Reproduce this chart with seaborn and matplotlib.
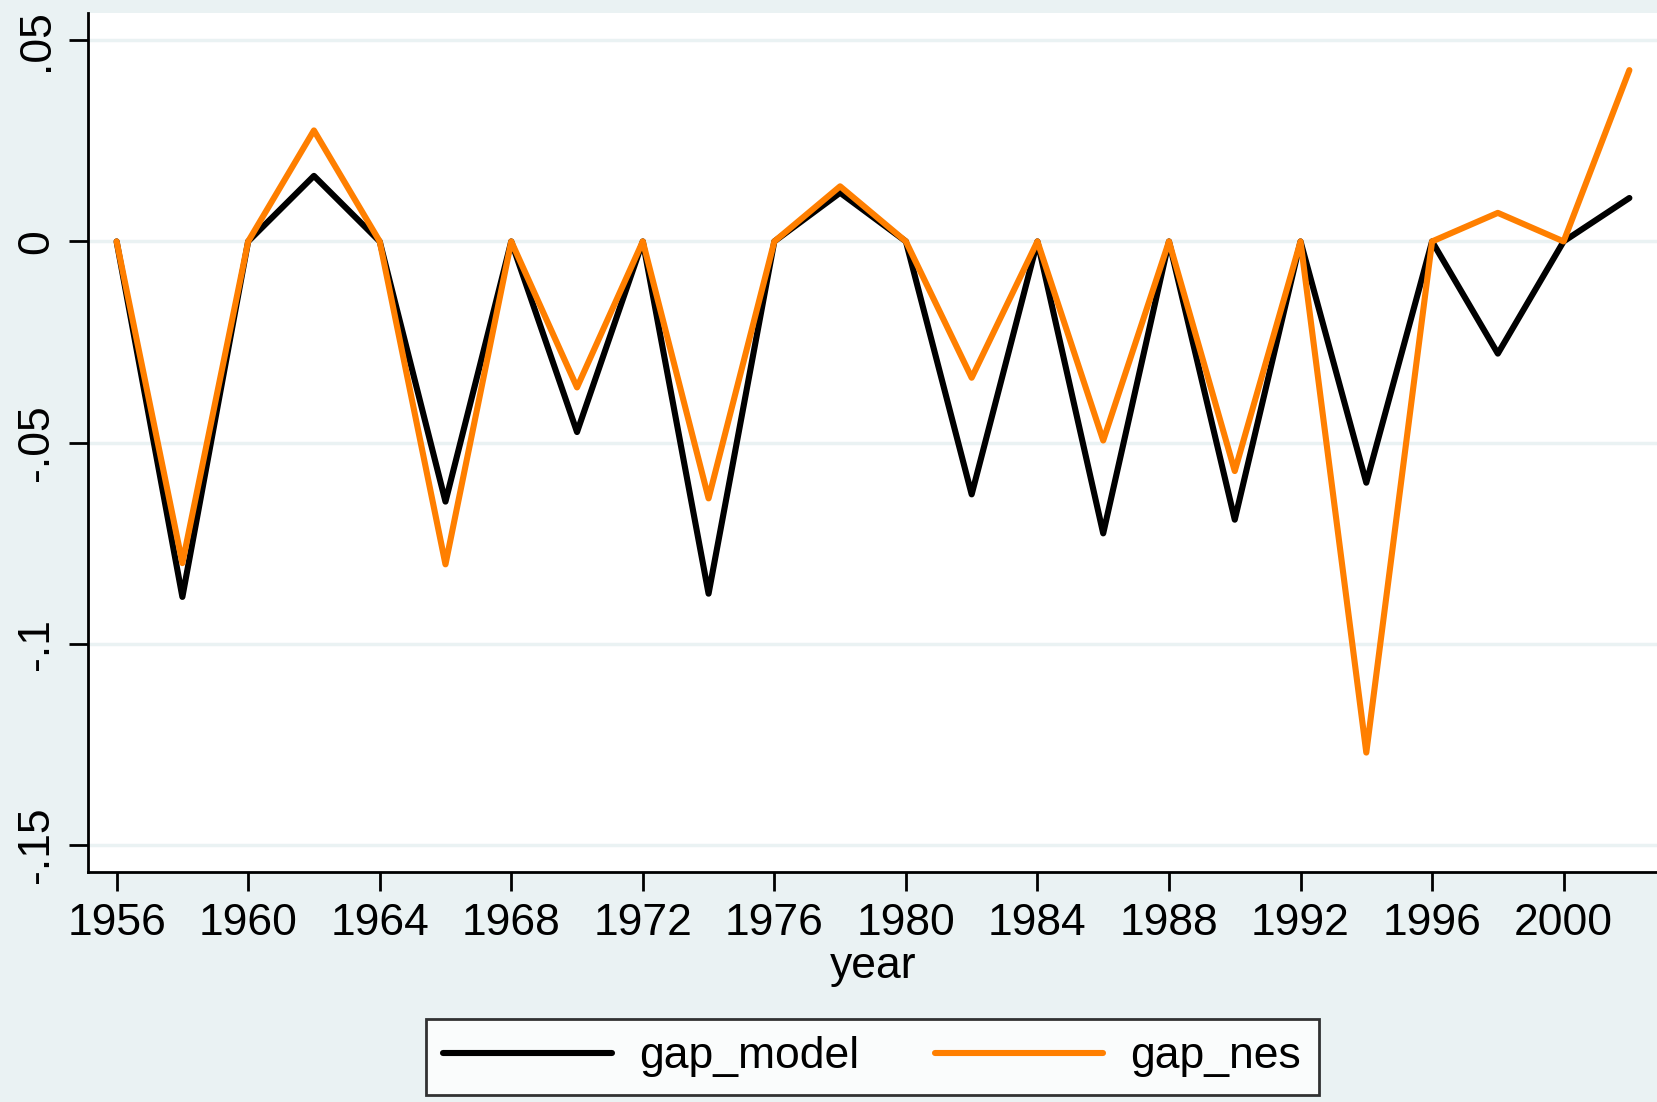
import matplotlib
matplotlib.use("Agg")
import matplotlib.pyplot as plt
import seaborn as sns
import pandas as pd

years = list(range(1956, 2003, 2))
gap_model = [0, -0.0884, 0, 0.0163, 0, -0.0647, 0, -0.0474, 0, -0.0876, 0, 0.0121,
             0, -0.0629, 0, -0.0726, 0, -0.0692, 0, -0.0600, 0, -0.0279, 0, 0.0108]
gap_nes = [0, -0.0800, 0, 0.0276, 0, -0.0803, 0, -0.0363, 0, -0.0639, 0, 0.0137,
           0, -0.0339, 0, -0.0495, 0, -0.0571, 0, -0.1271, 0, 0.0071, 0, 0.0426]
xticks = list(range(1956, 2001, 4))
yticks = [0.05, 0, -0.05, -0.1, -0.15]
ylabels = [".05", "0", "-.05", "-.1", "-.15"]

df = pd.DataFrame({"year": years + years,
                   "value": gap_model + gap_nes,
                   "series": ["gap_model"] * len(years) + ["gap_nes"] * len(years)})

sns.set_style("white")
plt.rcParams["font.family"] = ["Liberation Sans", "DejaVu Sans"]
plt.rcParams["text.color"] = "black"
plt.rcParams["xtick.color"] = "black"
plt.rcParams["ytick.color"] = "black"
plt.rcParams["axes.labelcolor"] = "black"

bg = "#eaf2f3"
fig = plt.figure(figsize=(16.58, 11.02), dpi=100, facecolor=bg)
ax = fig.add_axes([88 / 1658, 1 - 872 / 1102, 1 - 88 / 1658, (872 - 13) / 1102])
ax.set_facecolor("white")

sns.lineplot(data=df, x="year", y="value", hue="series",
             palette={"gap_model": "black", "gap_nes": "#ff7f00"},
             linewidth=4.4, ax=ax, sort=False)

ax.set_xlim(1955.13, 2002.87)
ax.set_ylim(-0.1568, 0.0568)
ax.set_yticks(yticks)
ax.set_yticklabels(ylabels, rotation=90, va="center")
ax.set_xticks(xticks)
for y in yticks:
    ax.axhline(y, color=bg, lw=2.5, zorder=0)

for s in ["top", "right"]:
    ax.spines[s].set_visible(False)
for s in ["left", "bottom"]:
    ax.spines[s].set_color("black")
    ax.spines[s].set_linewidth(2)
ax.tick_params(axis="both", direction="out", length=14, width=2, color="black",
               labelsize=32, pad=8, left=True, bottom=True)
ax.set_xlabel("year", fontsize=32, labelpad=2)
ax.set_ylabel("")

leg = ax.legend(loc="center", bbox_to_anchor=(0.526, 0.041),
                bbox_transform=fig.transFigure, ncol=2, fontsize=32,
                frameon=True, fancybox=False, edgecolor="black",
                handlelength=3.8, columnspacing=1.7, borderpad=0.4,
                handletextpad=0.6, title=None)
leg.get_frame().set_linewidth(2)
leg.get_frame().set_facecolor("white")
for h in leg.get_lines():
    h.set_linewidth(4.4)

fig.savefig("out.png", dpi=100, facecolor=bg)
